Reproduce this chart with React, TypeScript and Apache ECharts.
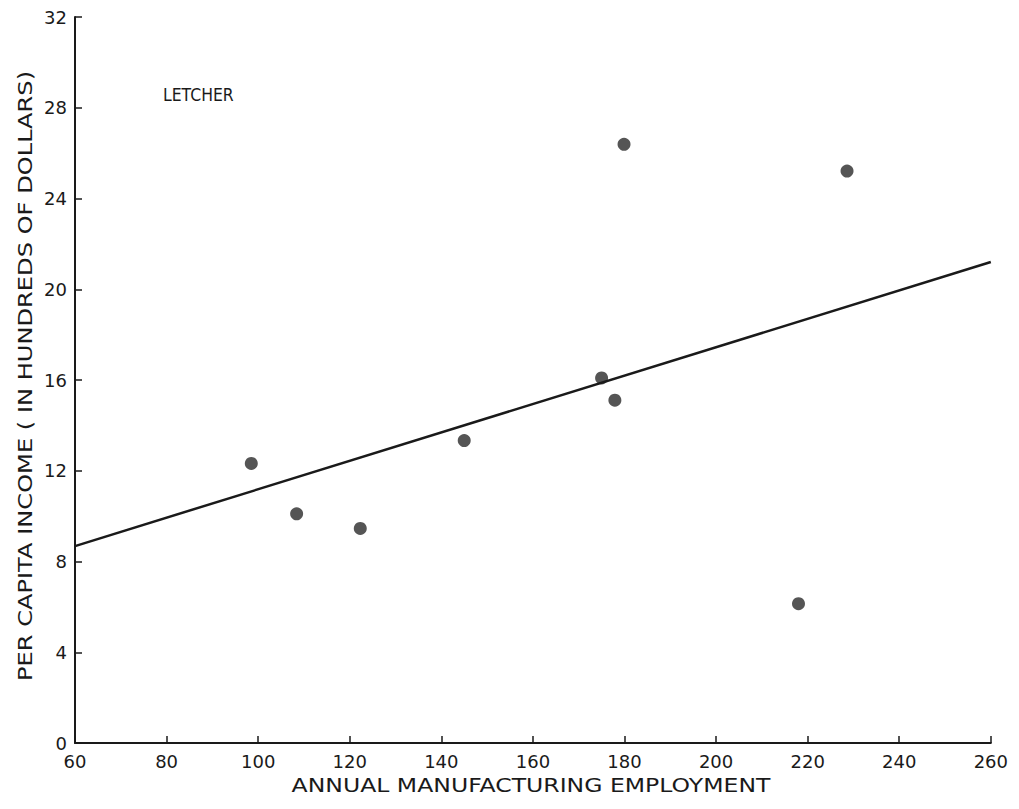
import React, { useEffect, useRef } from "react";
import * as echarts from "echarts";

const employment = [98.5, 108.4, 122.3, 145, 175, 177.9, 179.9, 228.6, 218];
const income = [12.32, 10.1, 9.46, 13.33, 16.09, 15.11, 26.39, 25.21, 6.14];
const trendX = [60, 260];
const trendY = [8.68, 21.2];
const xTicks = [60, 80, 100, 120, 140, 160, 180, 200, 220, 240, 260];
const yTicks = [0, 4, 8, 12, 16, 20, 24, 28, 32];
const countyLabel = "LETCHER";
const xTitle = "ANNUAL MANUFACTURING EMPLOYMENT";
const yTitle = "PER CAPITA INCOME ( IN HUNDREDS OF DOLLARS)";

export default function App() {
  const ref = useRef<HTMLDivElement>(null);
  useEffect(() => {
    if (!ref.current) return;
    const chart = echarts.init(ref.current, null, { renderer: "svg" });
    const font = "DejaVu Sans";
    const ink = "#1a1a1a";
    chart.setOption({
      animation: false,
      backgroundColor: "#ffffff",
      grid: { left: 67, right: 18, top: 5, bottom: 58 },
      xAxis: {
        type: "value",
        min: xTicks[0],
        max: xTicks[xTicks.length - 1],
        interval: 20,
        splitLine: { show: false },
        axisLine: { lineStyle: { color: ink, width: 2 } },
        axisTick: { inside: true, length: 7, lineStyle: { color: ink, width: 1.5 } },
        axisLabel: { color: ink, fontFamily: font, fontSize: 18, margin: 9 },
      },
      yAxis: {
        type: "value",
        min: yTicks[0],
        max: yTicks[yTicks.length - 1],
        interval: 4,
        splitLine: { show: false },
        axisLine: { show: true, lineStyle: { color: ink, width: 2 } },
        axisTick: { show: true, inside: true, length: 7, lineStyle: { color: ink, width: 1.5 } },
        axisLabel: { color: ink, fontFamily: font, fontSize: 18, margin: 8 },
      },
      graphic: [
        {
          type: "text",
          x: 155,
          y: 87,
          scaleX: 0.87,
          style: {
            text: countyLabel,
            font: `18px "${font}"`,
            fill: ink,
            align: "left",
            verticalAlign: "middle",
          },
        },
        {
          type: "text",
          x: 523,
          y: 777,
          scaleX: 1.24,
          style: {
            text: xTitle,
            font: `19px "${font}"`,
            fill: ink,
            align: "center",
            verticalAlign: "middle",
          },
        },
        {
          type: "text",
          x: 17,
          y: 368,
          rotation: Math.PI / 2,
          scaleX: 1.27,
          style: {
            text: yTitle,
            font: `19px "${font}"`,
            fill: ink,
            align: "center",
            verticalAlign: "middle",
          },
        },
      ],
      series: [
        {
          type: "line",
          data: trendX.map((x, i) => [x, trendY[i]]),
          symbol: "none",
          lineStyle: { color: ink, width: 2.5 },
        },
        {
          type: "scatter",
          data: employment.map((x, i) => [x, income[i]]),
          symbol: "circle",
          symbolSize: 13,
          itemStyle: { color: "#2b2b2b" },
        },
      ],
    });
    return () => chart.dispose();
  }, []);
  return <div ref={ref} style={{ width: 1003, height: 793 }} />;
}
